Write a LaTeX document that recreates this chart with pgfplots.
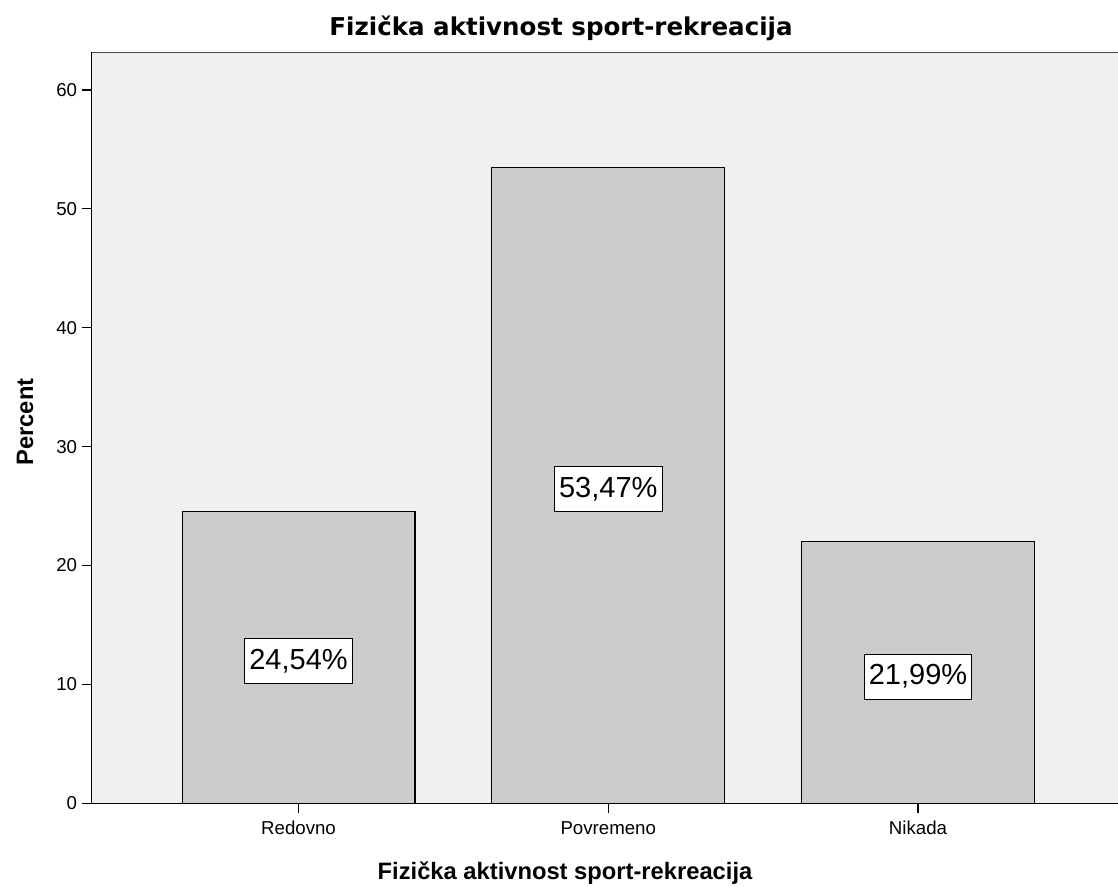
\documentclass[border=0pt]{standalone}
\usepackage{fontspec}
\setmainfont{Liberation Sans}
\newfontfamily\titlefont{DejaVu Sans}
\usepackage{pgfplots}
\pgfplotsset{compat=1.18}
\definecolor{bgc}{HTML}{F0F0F0}
\definecolor{barc}{HTML}{CCCCCC}
\begin{document}
\begin{tikzpicture}[x=1pt,y=1pt]
\useasboundingbox (-68.8,-62) rectangle (769.7,602.5);
\begin{axis}[
  at={(0,0)}, anchor=south west,
  scale only axis, width=769.7pt, height=563.25pt,
  xmin=-0.6676, xmax=2.6457, ymin=0, ymax=63.16,
  axis lines=left,
  axis line style={-, black, line width=0.9pt},
  axis background/.style={fill=bgc},
  clip=false,
  tick align=outside,
  xtick={0,1,2},
  xticklabels={Redovno,Povremeno,Nikada},
  ytick={0,10,20,30,40,50,60},
  major tick length=7.5pt,
  xtick style={black, line width=0.9pt},
  ytick style={black, line width=0.9pt},
  /pgf/number format/assume math mode=true,
  tick label style={font=\fontsize{14}{16}\selectfont},
  xticklabel style={text height=12.6pt, text depth=0pt},
  every axis title/.style={at={(0.4573,1.023)}, anchor=base, font=\titlefont\bfseries\fontsize{18.4}{20}\selectfont},
  title={Fizička aktivnost sport-rekreacija},
  xlabel={Fizička aktivnost sport-rekreacija},
  xlabel style={at={(0.4612,-0.1012)}, anchor=base, font=\bfseries\fontsize{17.8}{19}\selectfont},
  ylabel={Percent},
  ylabel style={at={(-0.0572,0.5078)}, anchor=base, font=\bfseries\fontsize{17.8}{19}\selectfont},
]
\addplot[ybar, bar width=0.752, fill=barc, draw=black, line width=0.8pt]
  coordinates {(0,24.54) (1,53.47) (2,21.99)};
\addplot[draw=none, mark=none, nodes near coords, point meta=explicit symbolic,
  nodes near coords style={anchor=center, fill=white, draw=black, line width=0.8pt,
    font=\fontsize{21.75}{24}\selectfont, inner xsep=3.5pt, inner ysep=0pt,
    minimum height=33.75pt, yshift=-3pt}]
  coordinates {(0,12.27) [{24,54\%}] (1,26.735) [{53,47\%}] (2,10.995) [{21,99\%}]};
\draw[gray!60!black, line width=1.2pt] (rel axis cs:0,1) -- (rel axis cs:1,1);
\end{axis}
\end{tikzpicture}
\end{document}
